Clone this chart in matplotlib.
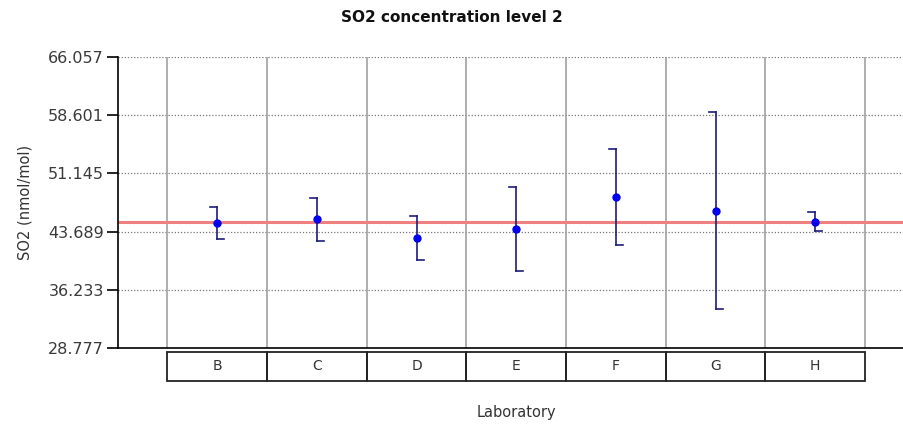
import matplotlib.pyplot as plt
import matplotlib.transforms as mtransforms
from matplotlib.patches import Rectangle
import numpy as np

# laboratory results for SO2, level 2
labs = ["B", "C", "D", "E", "F", "G", "H"]
values = [44.75, 45.30, 42.87, 44.02, 48.08, 46.33, 44.92]
upper = [46.88, 47.95, 45.69, 49.40, 54.27, 58.97, 46.16]
lower = [42.70, 42.52, 40.05, 38.64, 41.97, 33.78, 43.77]
ref_value = 44.96
yticks = [28.777, 36.233, 43.689, 51.145, 58.601, 66.057]

fig = plt.figure(figsize=(9.04, 4.25), dpi=100)
ax = fig.add_axes([118 / 904, 77 / 425, 786 / 904, 291 / 425])

x = np.arange(len(labs))
ax.set_xlim(-0.995, 6.89)
ax.set_ylim(yticks[0], yticks[-1])

# grid: dotted horizontal, solid vertical lab separators
for t in yticks[1:]:
    ax.axhline(t, color="#777777", lw=0.9, ls=(0, (1, 1.5)), zorder=1)
for b in np.arange(-0.5, len(labs)):
    ax.axvline(b, color="#999999", lw=1.1, zorder=1)

ax.axhline(ref_value, color="#f08080", lw=2.2, zorder=2)

# error bars with half caps: top one to the left, bottom one to the right
cap = 0.07
for xi, v, hi, lo in zip(x, values, upper, lower):
    ax.plot([xi, xi], [lo, hi], color="#1c1c7a", lw=1.2, zorder=3)
    ax.plot([xi - cap, xi], [hi, hi], color="#1c1c7a", lw=1.2, zorder=3)
    ax.plot([xi, xi + cap], [lo, lo], color="#1c1c7a", lw=1.2, zorder=3)
ax.plot(x, values, "o", color="#0000ee", ms=5, zorder=4)

for s in ["top", "right"]:
    ax.spines[s].set_visible(False)
ax.spines["left"].set_linewidth(1.2)
ax.spines["bottom"].set_linewidth(1.2)

ax.set_yticks(yticks)
ax.set_yticklabels([f"{t:.3f}" for t in yticks], fontsize=11.5, color="#3a3a3a")
ax.tick_params(axis="y", length=8, width=1.2, pad=2)
ax.set_xticks([])

# lab name table under the axis
trans = mtransforms.blended_transform_factory(ax.transData, ax.transAxes)
for xi, name in zip(x, labs):
    ax.add_patch(Rectangle((xi - 0.5, -0.1134), 1.0, 0.0997, transform=trans,
                           fill=False, ec="#222222", lw=1.3, clip_on=False))
    ax.text(xi, -0.0635, name, transform=trans, ha="center", va="center",
            fontsize=10, color="#333333")

ax.set_ylabel("SO2 (nmol/mol)", fontsize=10.5, color="#333333", labelpad=11)
fig.text(516 / 904, 1 - 412 / 425, "Laboratory", ha="center", va="center",
         fontsize=10.5, color="#333333")
fig.text(0.5, 1 - 18 / 425, "SO2 concentration level 2", ha="center",
         va="center", fontsize=11, fontweight="bold", color="#111111")

fig.savefig("out.png", dpi=100)
